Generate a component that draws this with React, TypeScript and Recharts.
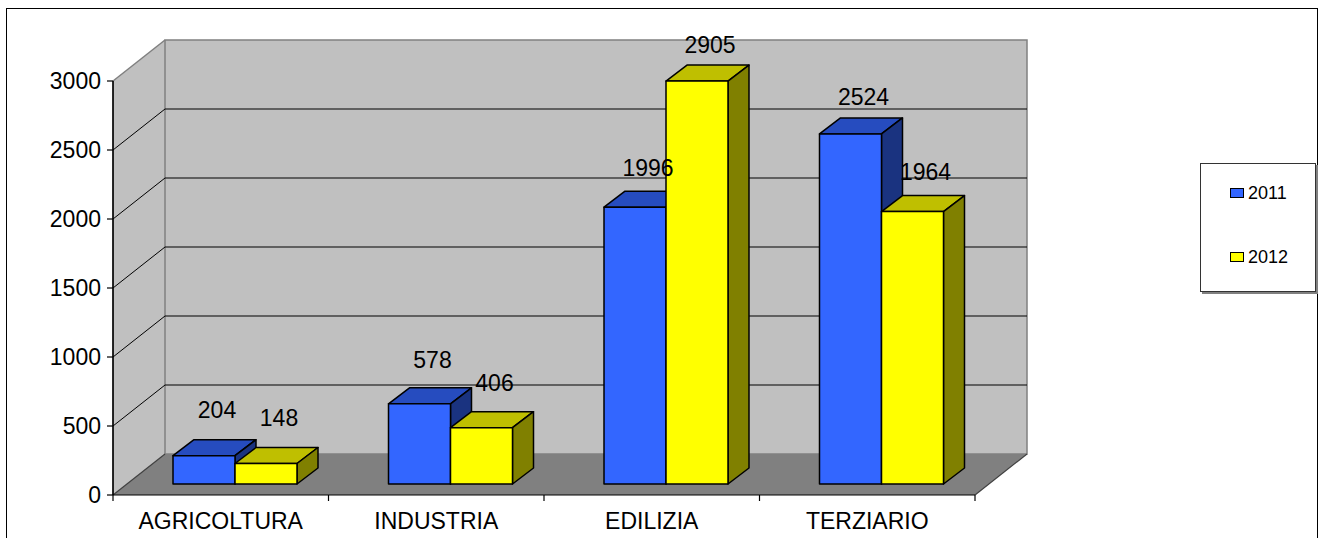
import { BarChart, Bar, XAxis, YAxis, ReferenceArea, LabelList, Legend } from "recharts";

const categories = ["AGRICOLTURA", "INDUSTRIA", "EDILIZIA", "TERZIARIO"];
const values2011 = [204, 578, 1996, 2524];
const values2012 = [148, 406, 2905, 1964];
const yTicks = [0, 500, 1000, 1500, 2000, 2500, 3000];

const data = categories.map((name, i) => ({
  name,
  v2011: values2011[i],
  v2012: values2012[i],
}));

const FONT = '"Liberation Sans", Arial, sans-serif';

// oblique 3D offsets (px): walls depth, bar position inside the box, bar depth
const WALL_DX = 52;
const WALL_DY = -41;
const BAR_SHIFT_X = 14;
const BAR_SHIFT_Y = -11;
const BAR_DX = 21;
const BAR_DY = -16;

const make3DBar = (front: string, top: string, side: string) => (props: any) => {
  const { x, y, width, height } = props;
  if (width == null || height == null) return null;
  const fx = x + BAR_SHIFT_X;
  const fy = y + BAR_SHIFT_Y;
  const stroke = { stroke: "#000", strokeWidth: 1.5, strokeLinejoin: "round" as const };
  return (
    <g>
      <polygon
        points={`${fx},${fy} ${fx + BAR_DX},${fy + BAR_DY} ${fx + width + BAR_DX},${fy + BAR_DY} ${fx + width},${fy}`}
        fill={top}
        {...stroke}
      />
      <polygon
        points={`${fx + width},${fy} ${fx + width + BAR_DX},${fy + BAR_DY} ${fx + width + BAR_DX},${fy + height + BAR_DY} ${fx + width},${fy + height}`}
        fill={side}
        {...stroke}
      />
      <rect x={fx} y={fy} width={width} height={height} fill={front} {...stroke} />
    </g>
  );
};

const blueBar = make3DBar("#3366FF", "#264CBF", "#1A3380");
const yellowBar = make3DBar("#FFFF00", "#BFBF00", "#808000");

const barLabel = (props: any) => {
  const { x, y, width, height, value } = props;
  const cx = x + BAR_SHIFT_X + width / 2 + 13;
  const cy = y + BAR_SHIFT_Y - 46 + height * 0.025;
  return (
    <text x={cx} y={cy} textAnchor="middle" dominantBaseline="central" fontSize={23} fontFamily={FONT} fill="#000">
      {value}
    </text>
  );
};

const WallsShape = (props: any) => {
  const { x, y, width, height } = props;
  if (x == null || width == null) return null;
  const yMax = yTicks[yTicks.length - 1];
  const bottom = y + height;
  const right = x + width;
  const ty = (t: number) => y + height * (1 - t / yMax);
  const n = categories.length;
  return (
    <g>
      <polygon
        points={`${x},${y} ${x + WALL_DX},${y + WALL_DY} ${x + WALL_DX},${bottom + WALL_DY} ${x},${bottom}`}
        fill="#C0C0C0"
      />
      <polygon
        points={`${x + WALL_DX},${y + WALL_DY} ${right + WALL_DX},${y + WALL_DY} ${right + WALL_DX},${bottom + WALL_DY} ${x + WALL_DX},${bottom + WALL_DY}`}
        fill="#C0C0C0"
        stroke="#808080"
        strokeWidth={1.5}
      />
      <polygon
        points={`${x},${bottom} ${x + WALL_DX},${bottom + WALL_DY} ${right + WALL_DX},${bottom + WALL_DY} ${right},${bottom}`}
        fill="#808080"
      />
      <line x1={right} y1={bottom} x2={right + WALL_DX} y2={bottom + WALL_DY} stroke="#404040" strokeWidth={1.2} />
      <line x1={x} y1={bottom} x2={x + WALL_DX} y2={bottom + WALL_DY} stroke="#404040" strokeWidth={1.2} />
      <line x1={x} y1={y} x2={x + WALL_DX} y2={y + WALL_DY} stroke="#808080" strokeWidth={1.5} />
      {yTicks
        .filter((t) => t > 0 && t < yMax)
        .map((t) => (
          <g key={t}>
            <line x1={x} y1={ty(t)} x2={x + WALL_DX} y2={ty(t) + WALL_DY} stroke="#000" strokeWidth={1} />
            <line x1={x + WALL_DX} y1={ty(t) + WALL_DY} x2={right + WALL_DX} y2={ty(t) + WALL_DY} stroke="#000" strokeWidth={1} />
          </g>
        ))}
      {Array.from({ length: n + 1 }, (_, i) => (
        <line key={i} x1={x + (i * width) / n} y1={bottom} x2={x + (i * width) / n} y2={bottom + 6} stroke="#000" strokeWidth={1.2} />
      ))}
      <line x1={x} y1={y} x2={x} y2={bottom} stroke="#000" strokeWidth={1.2} />
    </g>
  );
};

const renderLegend = (props: any) => {
  const { payload } = props;
  return (
    <div
      style={{
        width: 114,
        height: 127,
        border: "1px solid #333",
        boxShadow: "2px 2px 0 #808080",
        background: "#fff",
        position: "relative",
        fontFamily: FONT,
        fontSize: 18,
        color: "#000",
      }}
    >
      {(payload || []).map((entry: any, i: number) => (
        <div
          key={entry.value}
          style={{ position: "absolute", left: 29, top: 18 + i * 64, display: "flex", alignItems: "center", lineHeight: "22px" }}
        >
          <span
            style={{
              display: "inline-block",
              width: 12,
              height: 8,
              border: "1px solid #000",
              background: entry.color,
              marginRight: 4,
            }}
          />
          <span>{entry.value}</span>
        </div>
      ))}
    </div>
  );
};

export default function App() {
  return (
    <div style={{ position: "absolute", left: 0, top: 0, width: 1322, height: 538, background: "#fff", overflow: "hidden" }}>
      <div
        style={{
          position: "absolute",
          left: 6,
          top: 8,
          width: 1310,
          height: 560,
          border: "1.5px solid #000",
        }}
      />
      <div style={{ position: "absolute", left: 0, top: 0 }}>
        <BarChart
          width={1322}
          height={538}
          data={data}
          margin={{ top: 81, right: 347, bottom: 0, left: 0 }}
          barGap={0}
          barSize={62}
        >
          <ReferenceArea
            x1={categories[0]}
            x2={categories[categories.length - 1]}
            y1={0}
            y2={3000}
            yAxisId="main"
            shape={WallsShape}
            ifOverflow="visible"
          />
          <XAxis
            dataKey="name"
            height={43}
            interval={0}
            tickLine={false}
            tickMargin={12}
            axisLine={{ stroke: "#000", strokeWidth: 1.2 }}
            tick={{ fill: "#000", fontSize: 23, fontFamily: FONT }}
          />
          <YAxis
            yAxisId="main"
            width={113}
            domain={[0, 3000]}
            allowDataOverflow
            ticks={yTicks}
            interval={0}
            tickSize={6}
            tickMargin={6}
            axisLine={{ stroke: "#000", strokeWidth: 1.2 }}
            tickLine={{ stroke: "#000", strokeWidth: 1.2 }}
            tick={{ fill: "#000", fontSize: 23, fontFamily: FONT }}
          />
          {/* bars sit at mid-depth, slightly larger scale (perspective) */}
          <YAxis yAxisId="zbars" hide width={0} domain={[0, 2985]} />
          <Legend
            layout="vertical"
            align="center"
            verticalAlign="middle"
            wrapperStyle={{ left: 1200, top: 163, width: 116 }}
            content={renderLegend}
          />
          <Bar dataKey="v2011" name="2011" yAxisId="zbars" fill="#3366FF" shape={blueBar} isAnimationActive={false}>
            <LabelList dataKey="v2011" content={barLabel} />
          </Bar>
          <Bar dataKey="v2012" name="2012" yAxisId="zbars" fill="#FFFF00" shape={yellowBar} isAnimationActive={false}>
            <LabelList dataKey="v2012" content={barLabel} />
          </Bar>
        </BarChart>
      </div>
    </div>
  );
}
